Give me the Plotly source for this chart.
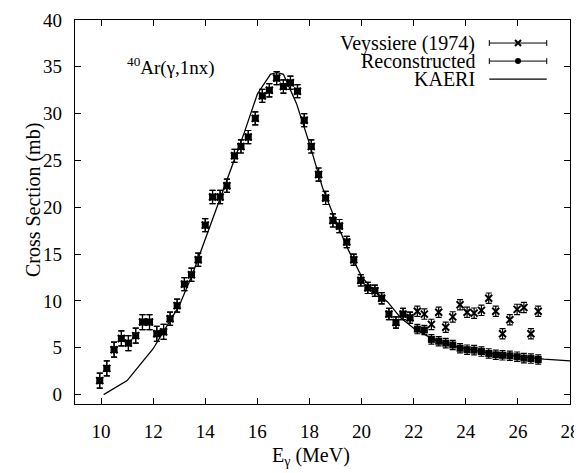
import plotly.graph_objects as go

# Veyssiere (1974) photoneutron data, 40Ar(g,1nx)
energy = [9.95, 10.22, 10.50, 10.78, 11.05, 11.33, 11.59, 11.86, 12.14, 12.40,
          12.65, 12.92, 13.20, 13.47, 13.73, 14.00, 14.28, 14.57, 14.83, 15.12,
          15.37, 15.65, 15.92, 16.19, 16.46, 16.74, 17.00, 17.27, 17.54, 17.80,
          18.07, 18.35, 18.62, 18.90, 19.15, 19.43, 19.70, 19.97, 20.24, 20.51,
          20.77, 21.05, 21.32, 21.59, 21.86, 22.14, 22.41, 22.68, 22.96, 23.23,
          23.50, 23.78, 24.05, 24.32, 24.60, 24.88, 25.15, 25.41, 25.69, 25.97,
          26.23, 26.50, 26.78]
veyssiere = [1.5, 2.8, 4.8, 6.0, 5.5, 6.3, 7.75, 7.75, 6.5, 6.7,
             8.1, 9.5, 11.8, 12.8, 14.4, 18.1, 21.1, 21.1, 22.3, 25.5,
             26.5, 27.5, 29.5, 31.9, 32.5, 33.8, 32.9, 33.3, 32.4, 29.3,
             26.5, 23.5, 21.0, 18.6, 18.0, 16.3, 14.4, 12.2, 11.4, 11.1,
             10.3, 8.6, 7.7, 8.6, 8.2, 8.9, 8.6, 7.5, 8.8, 7.2,
             8.3, 9.6, 8.8, 8.7, 9.0, 10.3, 8.9, 6.5, 8.0, 9.1,
             9.3, 6.5, 8.9]
veyssiere_err = [0.8, 0.8, 0.8, 0.8, 0.8, 0.8, 0.8, 0.8, 0.8, 0.8,
                 0.7, 0.7, 0.7, 0.7, 0.7, 0.7, 0.7, 0.7, 0.7, 0.7,
                 0.7, 0.7, 0.7, 0.7, 0.7, 0.7, 0.7, 0.7, 0.7, 0.7,
                 0.7, 0.7, 0.7, 0.7, 0.7, 0.6, 0.6, 0.6, 0.6, 0.6,
                 0.6, 0.6, 0.6, 0.6, 0.6, 0.55, 0.55, 0.55, 0.55, 0.55,
                 0.55, 0.55, 0.55, 0.55, 0.55, 0.55, 0.55, 0.55, 0.55, 0.55,
                 0.55, 0.55, 0.55]
reconstructed = [1.5, 2.8, 4.8, 6.0, 5.5, 6.3, 7.75, 7.75, 6.5, 6.7,
                 8.1, 9.5, 11.8, 12.8, 14.4, 18.1, 21.1, 21.1, 22.3, 25.5,
                 26.5, 27.5, 29.5, 31.9, 32.5, 33.8, 32.9, 33.3, 32.4, 29.3,
                 26.5, 23.5, 21.0, 18.6, 18.0, 16.3, 14.4, 12.2, 11.4, 11.1,
                 10.3, 8.6, 7.7, 8.6, 8.2, 7.0, 6.9, 5.9, 5.7, 5.5,
                 5.3, 4.95, 4.8, 4.75, 4.6, 4.4, 4.25, 4.2, 4.15, 4.05,
                 3.9, 3.85, 3.75]
reconstructed_err = [0.8, 0.8, 0.8, 0.8, 0.8, 0.8, 0.8, 0.8, 0.8, 0.8,
                     0.7, 0.7, 0.7, 0.7, 0.7, 0.7, 0.7, 0.7, 0.7, 0.7,
                     0.7, 0.7, 0.7, 0.7, 0.7, 0.7, 0.7, 0.7, 0.7, 0.7,
                     0.7, 0.7, 0.7, 0.7, 0.7, 0.6, 0.6, 0.6, 0.6, 0.6,
                     0.6, 0.6, 0.6, 0.6, 0.6, 0.5, 0.5, 0.5, 0.5, 0.5,
                     0.5, 0.5, 0.5, 0.5, 0.5, 0.5, 0.5, 0.5, 0.5, 0.5,
                     0.5, 0.5, 0.5]

# KAERI evaluation
kaeri_e = [10.1, 11.0, 11.5, 12.0, 12.5, 13.0, 13.5, 14.0, 14.5, 15.0,
           15.5, 16.0, 16.5, 16.75, 17.0, 17.5, 18.0, 18.5, 19.0, 19.5,
           20.0, 20.5, 21.0, 21.5, 22.0, 22.5, 23.0, 23.5, 24.0, 25.0,
           26.0, 27.0, 28.0]
kaeri_xs = [0.0, 1.5, 3.2, 4.9, 7.2, 9.5, 12.8, 16.5, 20.4, 24.2,
            28.0, 32.1, 34.2, 34.4, 34.2, 31.1, 26.8, 22.1, 18.6, 15.4,
            12.6, 11.0, 9.9, 8.2, 7.1, 6.3, 5.6, 5.2, 4.9, 4.4,
            4.1, 3.8, 3.6]

legend_names = ["Veyssiere (1974)", "Reconstructed", "KAERI"]

FONT = "Liberation Serif"

fig = go.Figure()

fig.add_trace(go.Scatter(
    x=kaeri_e, y=kaeri_xs, mode="lines",
    line=dict(color="black", width=1.3), showlegend=False))

fig.add_trace(go.Scatter(
    x=energy, y=veyssiere, mode="markers",
    marker=dict(symbol="x-thin", size=7, line=dict(color="black", width=2)),
    error_y=dict(type="data", array=veyssiere_err, color="black", thickness=1.2, width=3),
    showlegend=False))

fig.add_trace(go.Scatter(
    x=energy, y=reconstructed, mode="markers",
    marker=dict(symbol="square", size=7, color="black"),
    error_y=dict(type="data", array=reconstructed_err, color="black", thickness=1.2, width=3),
    showlegend=False))

# gnuplot style key, drawn on an overlay axis running 0..1
key_rows = [0.94, 0.893, 0.846]
key_mid = 0.895
key_half = 0.058
fig.add_trace(go.Scatter(
    x=[key_mid], y=[key_rows[0]], xaxis="x2", yaxis="y2", mode="markers",
    marker=dict(symbol="x-thin", size=6, line=dict(color="black", width=2)),
    error_x=dict(type="constant", value=key_half, color="black", thickness=1, width=3),
    showlegend=False, hoverinfo="skip"))
fig.add_trace(go.Scatter(
    x=[key_mid], y=[key_rows[1]], xaxis="x2", yaxis="y2", mode="markers",
    marker=dict(symbol="circle", size=6, color="black"),
    error_x=dict(type="constant", value=key_half, color="black", thickness=1, width=3),
    showlegend=False, hoverinfo="skip"))
fig.add_trace(go.Scatter(
    x=[key_mid - key_half, key_mid + key_half], y=[key_rows[2], key_rows[2]],
    xaxis="x2", yaxis="y2", mode="lines", line=dict(color="black", width=1.3),
    showlegend=False, hoverinfo="skip"))

annotations = [dict(xref="paper", yref="paper", x=0.812, y=row, text=name,
                    xanchor="right", yanchor="middle", showarrow=False,
                    font=dict(family=FONT, size=20, color="black"))
               for name, row in zip(legend_names, key_rows)]
annotations.append(dict(xref="paper", yref="paper", x=0.1, y=0.878,
                        text="<sup>40</sup>Ar(γ,1nx)", xanchor="left", yanchor="middle",
                        showarrow=False, font=dict(family=FONT, size=19, color="black")))
# axis titles
annotations.append(dict(xref="paper", yref="paper", x=0, y=0.531, xshift=-42,
                        text="Cross Section (mb)", textangle=-90,
                        xanchor="center", yanchor="middle", showarrow=False,
                        font=dict(family=FONT, size=20, color="black")))
annotations.append(dict(xref="paper", yref="paper", x=0.477, y=0, yshift=-52,
                        text="E<sub>γ</sub> (MeV)",
                        xanchor="center", yanchor="middle", showarrow=False,
                        font=dict(family=FONT, size=20, color="black")))

axis_common = dict(showgrid=False, zeroline=False, showline=True, linecolor="black",
                   linewidth=1.2, mirror="allticks", ticks="inside", ticklen=6,
                   tickcolor="black", tickwidth=1.2, automargin=False,
                   tickfont=dict(family=FONT, size=19, color="black"))

# the page puts the figure about 8 px in from the top left corner
fig.update_layout(
    width=582, height=473,
    margin=dict(l=67, r=20, t=12, b=77),
    paper_bgcolor="white", plot_bgcolor="white",
    font=dict(family="DejaVu Serif", size=18, color="black"),
    xaxis=dict(range=[9, 28], tickvals=[10, 12, 14, 16, 18, 20, 22, 24, 26, 28],
               ticklabelstandoff=10, **axis_common),
    yaxis=dict(range=[-1, 40], tickvals=[0, 5, 10, 15, 20, 25, 30, 35, 40],
               ticklabelstandoff=8, **axis_common),
    xaxis2=dict(overlaying="x", range=[0, 1], visible=False, fixedrange=True),
    yaxis2=dict(overlaying="y", range=[0, 1], visible=False, fixedrange=True),
    annotations=annotations,
)

fig.write_html("out.html")
